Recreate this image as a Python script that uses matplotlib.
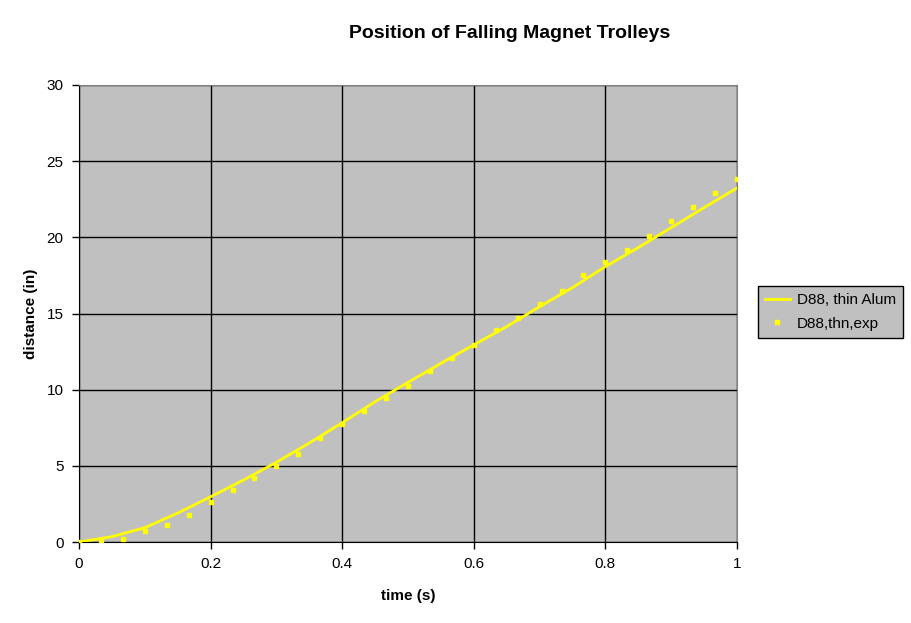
import matplotlib
matplotlib.use("Agg")
import matplotlib.pyplot as plt
import numpy as np

plt.rcParams['font.family'] = ['Liberation Sans', 'DejaVu Sans']

# model curve (D88, thin Alum)
t_model = [0.0, 0.05, 0.1, 0.15, 0.2, 0.25, 0.3, 0.35, 0.4, 0.45, 0.5,
           0.55, 0.6, 0.65, 0.7, 0.75, 0.8, 0.85, 0.9, 0.95, 1.0]
d_model = [0.0, 0.35, 0.94, 1.9, 2.97, 4.07, 5.23, 6.5, 7.83, 9.21, 10.48,
           11.73, 12.94, 14.14, 15.45, 16.7, 18.08, 19.33, 20.64, 21.95, 23.24]

# experimental points (D88,thn,exp)
t_exp = [k / 30 for k in range(31)]
d_exp = [0.0, 0.15, 0.22, 0.74, 1.14, 1.79, 2.65, 3.43, 4.22, 5.01, 5.80,
         6.83, 7.73, 8.60, 9.43, 10.24, 11.23, 12.06, 12.95, 13.9, 14.73,
         15.63, 16.48, 17.53, 18.4, 19.2, 20.09, 21.1, 22.02, 22.94, 23.86]

fig = plt.figure(figsize=(9.11, 6.23), dpi=100)
ax = fig.add_axes([79/911, 1 - 542/623, (737-79)/911, (542-85)/623])
ax.set_facecolor('#C0C0C0')

ax.plot(t_model, d_model, color='#FFFF00', linewidth=2, label='D88, thin Alum', zorder=3)
ax.plot(t_exp, d_exp, linestyle='none', marker='s', markersize=3.5, color='#FFFF00',
        label='D88,thn,exp', zorder=4)

ax.set_xlim(0, 1)
ax.set_ylim(0, 30)
ax.set_xticks([0, 0.2, 0.4, 0.6, 0.8, 1])
ax.set_xticklabels(['0', '0.2', '0.4', '0.6', '0.8', '1'])
ax.set_yticks([0, 5, 10, 15, 20, 25, 30])
ax.grid(True, color='black', linewidth=1)
ax.set_axisbelow(True)
for s in ['top', 'right']:
    ax.spines[s].set_color('#808080')
for s in ['left', 'bottom']:
    ax.spines[s].set_color('black')
ax.tick_params(direction='out', length=5, width=1, labelsize=11, pad=6)

ax.set_xlabel('time (s)', fontsize=11, fontweight='bold', labelpad=13)
ax.set_ylabel('distance (in)', fontsize=11, fontweight='bold', labelpad=6)
fig.text(510/911, 1 - 33/623, 'Position of Falling Magnet Trolleys', ha='center', va='center',
         fontsize=14, fontweight='bold')

leg = fig.legend(loc='center left', bbox_to_anchor=(758/911, 1 - 312/623), fontsize=11,
                 facecolor='#C0C0C0', edgecolor='black', framealpha=1, fancybox=False,
                 handlelength=1.65, borderpad=0.45, labelspacing=0.62, handletextpad=0.45,
                 borderaxespad=0)
leg.get_frame().set_linewidth(1)

fig.savefig('out.png', dpi=100)
